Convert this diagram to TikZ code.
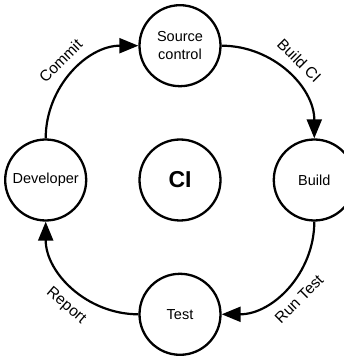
\documentclass[tikz,border=0pt]{standalone}
\usepackage{fontspec}
\setmainfont{Liberation Sans}
\usetikzlibrary{positioning, arrows.meta}

\begin{document}
\begin{tikzpicture}[x=1pt, y=1pt, node distance=51pt,
		stage/.style={circle, draw=black, line width=2.3pt, minimum size=81pt, inner sep=0pt, align=center, font=\fontsize{14.5}{18}\selectfont},
		flow/.style={-{Triangle[length=19pt,width=15pt]}, line width=2.2pt},
		tag/.style={sloped, font=\fontsize{15.5}{18}\selectfont},
		]
	\useasboundingbox (-180,-178) rectangle (163,180);
	
	\node[stage] (CI)                          {\fontsize{23}{25}\selectfont\bfseries CI};
	\node[stage] (Source)    [above=of CI]    {Source\\control};
	\node[stage] (Build)     [right=of CI]    {Build};
	\node[stage] (Test)      [below=of CI]    {Test};
	\node[stage] (Developer) [left=of CI]     {Developer};
	
	
	\draw [flow] (Developer.north) to[out=90, in=180] node[tag, above=7pt] {Commit} (Source.west);
	\draw [flow] (Source.east) to[out=0, in=90] node[tag, above=7pt] {Build CI} (Build.north);
	\draw [flow] (Build.south) to[out=-90, in=0] node[tag, below=7pt] {Run Test} (Test.east);
	\draw [flow] (Test.west) to[out=180, in=-90] node[tag, below=7pt, pos=0.45] {Report} (Developer.south);
	
\end{tikzpicture}
\end{document}
